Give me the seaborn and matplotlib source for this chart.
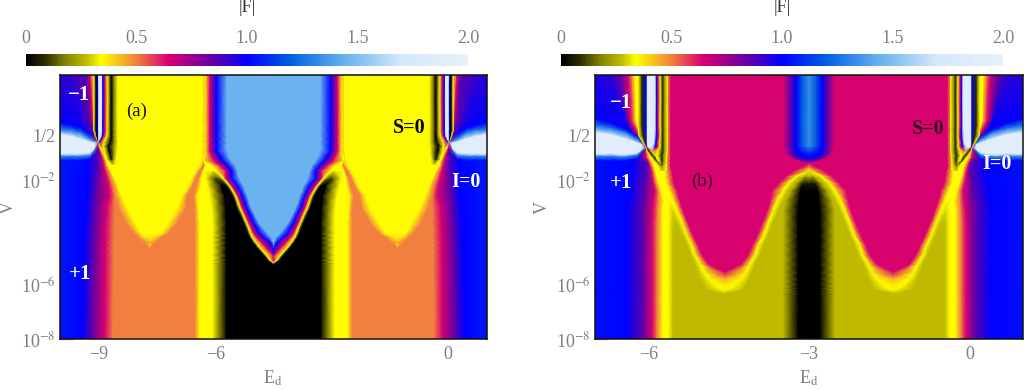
import numpy as np
import matplotlib
matplotlib.use("Agg")
import matplotlib.pyplot as plt
from matplotlib.colors import LinearSegmentedColormap
import seaborn as sns

# ---------- colour scale of |F| ----------
F_STOPS = [0, .08, .17, .27, .335, .5, .64, .85, 1.0, 1.2, 1.43, 1.7, 2.0]
F_COLORS = ["#000000", "#2a2a00", "#807f00", "#bfba00", "#ffff00", "#f08040", "#d80070",
            "#6000a8", "#0000ff", "#0060e0", "#62aeee", "#d4e8fa", "#e8f0fa"]
CBAR_TICKS = [0, .5, 1.0, 1.5, 2.0]
CBAR_LABELS = ["0", "0.5", "1.0", "1.5", "2.0"]

# ---------- panel (a): contours, Ed position of each |F| level per log10(V) ----------
A_CENTER, A_XLIM = -4.5, (-10, 1)
a_logv = [-8, -5.13, -5.02, -4.83, -4.53, -4.34, -4.15, -4.0, -3.62, -3.02, -2.57, -2.19, -1.92, -1.62, -1.43, -1.25,
          -0.87, -0.53, -0.3, 0.26, 2]
a_levels = [1.05, 1.0, .85, .64, .5, .5, .34, .34, .5, .5, .34, .34, 0, 0, .34, .64, 1.0, 1.45, 1.45]
a_ed = [
 [-9.41,-9.18,-8.84,-8.64,-7.69,-7.69,-7.69,-7.69,-6.53,-6.40,-6.07,-5.71,-4.5,-4.5,-4.5,-4.5,-4.5],
 [-9.38,-9.15,-8.83,-8.62,-7.69,-7.69,-7.69,-7.69,-6.53,-6.40,-6.07,-5.71,-4.5,-4.5,-4.5,-4.5,-4.5],
 [-9.38,-9.15,-8.83,-8.62,-7.69,-7.69,-7.69,-7.69,-6.53,-6.40,-6.07,-5.71,-4.65,-4.58,-4.5,-4.5,-4.5],
 [-9.38,-9.15,-8.83,-8.62,-7.69,-7.69,-7.69,-7.69,-6.53,-6.40,-6.07,-5.71,-4.75,-4.68,-4.5,-4.5,-4.5],
 [-9.37,-9.14,-8.83,-8.62,-7.69,-7.69,-7.69,-7.69,-6.53,-6.40,-6.07,-5.71,-4.93,-4.86,-4.68,-4.5,-4.5],
 [-9.37,-9.14,-8.83,-8.62,-7.87,-7.69,-7.69,-7.51,-6.53,-6.40,-6.07,-5.71,-5.03,-4.96,-4.8,-4.58,-4.5],
 [-9.36,-9.13,-8.82,-8.61,-8.0,-7.8,-7.58,-7.38,-6.53,-6.40,-6.07,-5.71,-5.11,-5.05,-4.92,-4.74,-4.55],
 [-9.36,-9.13,-8.82,-8.61,-8.1,-7.9,-7.4,-7.2,-6.53,-6.40,-6.07,-5.71,-5.16,-5.09,-5.0,-4.86,-4.65],
 [-9.34,-9.11,-8.81,-8.6,-8.3,-8.05,-7.22,-6.98,-6.53,-6.40,-6.07,-5.71,-5.26,-5.19,-5.12,-5.0,-4.86],
 [-9.32,-9.09,-8.79,-8.59,-8.5,-8.27,-6.97,-6.75,-6.53,-6.43,-6.09,-5.73,-5.45,-5.37,-5.3,-5.19,-5.07],
 [-9.3,-9.07,-8.71,-8.59,-8.58,-8.41,-6.86,-6.72,-6.56,-6.45,-6.14,-5.76,-5.55,-5.48,-5.41,-5.3,-5.17],
 [-9.28,-9.05,-8.74,-8.64,-8.62,-8.51,-6.68,-6.58,-6.48,-6.38,-6.2,-5.84,-5.71,-5.63,-5.57,-5.43,-5.27],
 [-9.28,-9.03,-8.79,-8.7,-8.69,-8.59,-6.61,-6.5,-6.44,-6.35,-6.25,-6.02,-5.89,-5.79,-5.72,-5.58,-5.37],
 [-9.28,-9.0,-8.84,-8.77,-8.75,-8.69,-6.5,-6.4,-6.35,-6.3,-6.25,-6.07,-6.07,-5.97,-5.73,-5.58,-5.43],
 [-9.27,-8.99,-8.87,-8.82,-8.81,-8.77,-6.4,-6.3,-6.27,-6.25,-6.22,-6.2,-6.14,-6.09,-5.86,-5.68,-5.48],
 [-9.28,-8.97,-8.9,-8.84,-8.83,-8.79,-6.35,-6.3,-6.3,-6.3,-6.3,-6.3,-6.3,-6.3,-6.02,-5.81,-5.58],
 [-9.25,-9.0,-8.97,-8.95,-8.92,-8.9,-6.32,-6.27,-6.27,-6.27,-6.27,-6.27,-6.27,-6.27,-6.14,-5.97,-5.7],
 [-9.28,-9.07,-9.05,-9.02,-9.01,-9.0,-6.32,-6.27,-6.27,-6.27,-6.27,-6.27,-6.27,-6.27,-6.14,-5.97,-5.7],
 [-9.23,-9.1,-9.07,-9.06,-9.05,-9.04,-6.32,-6.27,-6.27,-6.27,-6.27,-6.27,-6.27,-6.27,-6.14,-5.97,-5.7],
 [-9.49,-9.23,-9.15,-9.13,-9.11,-9.1,-6.32,-6.27,-6.27,-6.27,-6.27,-6.27,-6.27,-6.27,-6.14,-5.97,-5.7],
 [-9.74,-9.31,-9.22,-9.18,-9.15,-9.11,-6.32,-6.27,-6.27,-6.27,-6.27,-6.27,-6.27,-6.27,-6.14,-5.97,-5.7],
]
a_level_changes = {-4.34: {6: .44, 7: .44}, -4.15: {6: .37, 7: .37},
                   -1.92: {12: .12, 13: .12}, -1.62: {12: .34, 13: .34}, -1.43: {12: .34, 13: .34},
                   -1.25: {12: .34, 13: .34}, -0.87: {12: .34, 13: .34}, -0.53: {12: .34, 13: .34},
                   -0.3: {12: .34, 13: .34}, 0.26: {0: 1.0, 1: .98, 12: .34, 13: .34},
                   2: {0: .93, 1: .92, 12: .34, 13: .34}}

a_spike_logv = [-1.4, -1.2, -.95, -.7, -.53, -.45, -.3, -.1, 2]
a_spike_ed = [
 [-8.76,-8.75,-8.74,-8.73,-8.72,-8.71,-8.7,-8.68,-8.65,-8.6,-8.55],
 [-8.81,-8.81,-8.81,-8.81,-8.81,-8.81,-8.8,-8.79,-8.68,-8.62,-8.56],
 [-8.88,-8.88,-8.88,-8.88,-8.88,-8.88,-8.87,-8.84,-8.72,-8.62,-8.54],
 [-8.98,-8.97,-8.97,-8.96,-8.96,-8.96,-8.94,-8.88,-8.75,-8.63,-8.52],
 [-9.01,-9.0,-9.0,-8.99,-8.99,-8.98,-8.95,-8.87,-8.7,-8.61,-8.52],
 [-9.04,-9.02,-9.01,-9.0,-8.98,-8.95,-8.92,-8.84,-8.69,-8.61,-8.52],
 [-9.09,-9.05,-9.02,-9.0,-8.94,-8.9,-8.86,-8.79,-8.68,-8.61,-8.52],
 [-9.13,-9.07,-9.02,-9.0,-8.92,-8.9,-8.84,-8.78,-8.68,-8.61,-8.52],
 [-9.13,-9.07,-9.02,-9.0,-8.92,-8.9,-8.84,-8.78,-8.68,-8.61,-8.52],
]
a_spike_f = [
 [.34,.34,.34,.34,.34,.34,.34,.34,.34,.34,.34],
 [.34,.34,.34,.34,.34,.34,.34,.34,.05,.2,.34],
 [.34,.34,.34,.34,.34,.34,.34,.34,0,.17,.34],
 [.34,.34,.34,.34,.34,.34,.5,.34,0,.17,.34],
 [.34,0,1,1.5,1.5,1,.64,.34,0,.17,.34],
 [.34,0,1,1.9,1.9,1,.64,.34,0,.17,.34],
 [.34,0,1,1.9,1.9,1,.64,.34,0,.17,.34],
 [.34,0,1,1.9,1.9,1,.64,.34,0,.17,.34],
 [.34,0,1,1.9,1.9,1,.64,.34,0,.17,.34],
]

a_wedge_ed = [-10, -9.74, -9.49, -9.23, -9.1, -9.0]
a_wedge_logv = [
 [.19,-.08,-.26,-.98,-1.09,-1.25],
 [.11,-.11,-.32,-.98,-1.09,-1.25],
 [0,-.19,-.42,-.98,-1.09,-1.25],
 [-.23,-.42,-.55,-.94,-1.06,-1.17],
 [-.34,-.49,-.57,-.75,-.87,-.98],
 [-.55,-.55,-.55,-.55,-.55,-.55],
]
a_wedge_f = [
 [1.02,1.3,1.9,1.9,1.3,1.02],
 [1.0,1.3,1.9,1.9,1.3,1.0],
 [1.0,1.3,1.9,1.9,1.3,1.0],
 [.98,1.3,1.9,1.9,1.3,.98],
 [.8,1.2,1.9,1.9,1.2,.9],
 [.6,.6,.6,.6,.6,.6],
]

# ---------- panel (b) ----------
B_CENTER, B_XLIM = -3.0, (-7, 1)
b_logv = [-8, -6.26, -6.19, -6.08, -5.92, -5.7, -5.47, -5.17, -4.79, -4.45, -4.08, -3.7, -3.13, -2.75, -2.38, -2.11,
          -1.85, -1.62, -1.47, -1.32, -1.13, -.79, -.53, -.3, .26, 2]
b_levels = [1.03, 1, .85, .64, .5, .34, .34, .27, .27, .34, .64, .64, .34, .27, .27, 0, 0]
b_ed = [
 [-6.4,-6.1,-5.93,-5.84,-5.73,-5.63,-5.54,-4.57,-4.57,-4.57,-4.57,-4.57,-4.57,-3.48,-3.2],
 [-6.4,-6.1,-5.93,-5.84,-5.73,-5.63,-5.54,-4.57,-4.57,-4.57,-4.57,-4.57,-4.57,-3.48,-3.2],
 [-6.4,-6.1,-5.93,-5.84,-5.73,-5.63,-5.54,-4.81,-4.57,-4.57,-4.57,-4.57,-4.33,-3.48,-3.2],
 [-6.4,-6.1,-5.93,-5.84,-5.73,-5.63,-5.54,-4.94,-4.66,-4.57,-4.57,-4.48,-4.2,-3.48,-3.2],
 [-6.4,-6.1,-5.93,-5.84,-5.73,-5.63,-5.54,-4.98,-4.77,-4.57,-4.57,-4.37,-4.16,-3.48,-3.2],
 [-6.4,-6.1,-5.93,-5.84,-5.73,-5.63,-5.54,-5.03,-4.88,-4.57,-4.57,-4.26,-4.11,-3.48,-3.2],
 [-6.4,-6.1,-5.93,-5.84,-5.73,-5.63,-5.54,-5.07,-4.96,-4.57,-4.57,-4.18,-4.07,-3.48,-3.2],
 [-6.4,-6.1,-5.93,-5.84,-5.73,-5.63,-5.54,-5.13,-5.03,-4.87,-4.27,-4.11,-4.01,-3.48,-3.2],
 [-6.4,-6.1,-5.93,-5.84,-5.73,-5.63,-5.54,-5.22,-5.14,-5.0,-4.13,-4.0,-3.91,-3.48,-3.2],
 [-6.4,-6.1,-5.93,-5.84,-5.73,-5.63,-5.54,-5.28,-5.19,-5.07,-4.06,-3.95,-3.85,-3.48,-3.2],
 [-6.4,-6.1,-5.93,-5.84,-5.73,-5.63,-5.54,-5.36,-5.28,-5.16,-3.97,-3.85,-3.76,-3.48,-3.2],
 [-6.4,-6.1,-5.93,-5.84,-5.73,-5.63,-5.54,-5.44,-5.35,-5.24,-3.89,-3.78,-3.69,-3.48,-3.2],
 [-6.4,-6.1,-5.92,-5.83,-5.73,-5.63,-5.55,-5.55,-5.46,-5.35,-3.78,-3.67,-3.57,-3.48,-3.2],
 [-6.38,-6.08,-5.9,-5.82,-5.71,-5.63,-5.6,-5.6,-5.54,-5.41,-3.73,-3.59,-3.48,-3.44,-3.18],
 [-6.36,-6.06,-5.88,-5.82,-5.76,-5.69,-5.65,-5.65,-5.61,-5.46,-3.69,-3.48,-3.39,-3.35,-3.16],
 [-6.34,-6.04,-5.91,-5.86,-5.8,-5.73,-5.71,-5.71,-5.67,-5.52,-3.57,-3.39,-3.29,-3.25,-3.12],
 [-6.32,-6.02,-5.93,-5.89,-5.84,-5.76,-5.73,-5.73,-5.69,-5.54,-3.44,-3.24,-3.16,-3.12,-3.06],
 [-6.31,-6.0,-5.95,-5.91,-5.87,-5.78,-5.75,-5.75,-5.7,-5.56,-3.27,-3.0,-3.0,-3.0,-3.0],
 [-6.31,-6.0,-5.97,-5.93,-5.89,-5.8,-5.76,-5.76,-5.7,-5.58,-3.11,-3.0,-3.0,-3.0,-3.0],
 [-6.32,-6.02,-5.99,-5.96,-5.92,-5.82,-5.78,-5.78,-5.7,-5.58,-3.0,-3.0,-3.0,-3.0,-3.0],
 [-6.33,-6.12,-6.04,-6.01,-5.97,-5.88,-5.8,-5.8,-5.69,-5.58,-3.0,-3.0,-3.0,-3.0,-3.0],
 [-6.38,-6.16,-6.08,-6.04,-6.03,-6.01,-5.88,-5.88,-5.69,-5.58,-3.0,-3.0,-3.0,-3.0,-3.0],
 [-6.25,-6.16,-6.12,-6.08,-6.06,-6.04,-5.88,-5.88,-5.69,-5.58,-3.0,-3.0,-3.0,-3.0,-3.0],
 [-6.31,-6.23,-6.19,-6.16,-6.14,-6.12,-5.88,-5.88,-5.69,-5.58,-3.0,-3.0,-3.0,-3.0,-3.0],
 [-6.42,-6.4,-6.33,-6.27,-6.23,-6.18,-5.88,-5.88,-5.69,-5.58,-3.0,-3.0,-3.0,-3.0,-3.0],
 [-6.72,-6.53,-6.38,-6.31,-6.25,-6.19,-5.88,-5.88,-5.69,-5.58,-3.0,-3.0,-3.0,-3.0,-3.0],
]
_b_top = {7: .34, 8: .34, 12: .64, 13: .64, 14: .64, 15: .64, 16: .64}
b_level_changes = {-6.19: {9: .31, 10: .31, 11: .31, 12: .31}, -6.08: {10: .34, 11: .34}, -5.92: {10: .37, 11: .37},
                   -5.7: {10: .45, 11: .45}, -3.13: {7: .3, 8: .3},
                   -2.75: {7: .34, 8: .34}, -2.38: {7: .34, 8: .34},
                   -2.11: {7: .34, 8: .34, 15: .05, 16: .05}, -1.85: {7: .34, 8: .34, 15: .2, 16: .25},
                   -1.62: {7: .34, 8: .34, 12: .34, 13: .34, 14: .34, 15: .34, 16: .34},
                   -1.47: {7: .34, 8: .34, 12: .5, 13: .5, 14: .5, 15: .5, 16: .5},
                   -1.32: _b_top, -1.13: _b_top, -.79: _b_top, -.53: _b_top, -.3: _b_top,
                   .26: {**_b_top, 0: 1.0, 1: .98}, 2: {**_b_top, 0: .95, 1: .93}}

b_spike_logv = [-1.62, -1.43, -1.25, -1.06, -.87, -.72, -.57, -.3, .08, 2]
b_spike_ed = [
 [-5.78,-5.77,-5.76,-5.75,-5.74,-5.73,-5.72,-5.71,-5.7,-5.69,-5.67],
 [-5.82,-5.76,-5.76,-5.76,-5.76,-5.76,-5.76,-5.76,-5.75,-5.72,-5.67],
 [-5.9,-5.84,-5.82,-5.82,-5.82,-5.82,-5.82,-5.8,-5.75,-5.71,-5.67],
 [-5.97,-5.92,-5.86,-5.86,-5.86,-5.86,-5.86,-5.83,-5.76,-5.71,-5.66],
 [-6.03,-6.0,-5.95,-5.93,-5.91,-5.9,-5.88,-5.82,-5.74,-5.7,-5.65],
 [-6.04,-6.03,-6.03,-6.01,-5.93,-5.87,-5.83,-5.79,-5.74,-5.7,-5.65],
 [-6.1,-6.06,-6.04,-6.02,-5.9,-5.86,-5.83,-5.79,-5.74,-5.7,-5.65],
 [-6.18,-6.1,-6.04,-6.02,-5.89,-5.85,-5.81,-5.78,-5.74,-5.7,-5.65],
 [-6.19,-6.12,-6.04,-6.02,-5.88,-5.85,-5.82,-5.78,-5.74,-5.7,-5.65],
 [-6.19,-6.12,-6.04,-6.02,-5.88,-5.85,-5.82,-5.78,-5.74,-5.7,-5.65],
]
b_spike_f = [
 [.34,.34,.34,.34,.34,.34,.34,.34,.34,.34,.34],
 [.34,.15,.15,.15,.15,.15,.15,.15,.15,.24,.34],
 [.34,.08,.3,.3,.3,.3,.3,.34,.08,.2,.34],
 [.34,.08,.34,.34,.34,.34,.34,.34,.08,.2,.34],
 [.34,.08,.45,.5,.5,.5,.5,.34,.08,.2,.34],
 [.34,.08,1,1.9,1.9,1,.64,.34,.08,.2,.34],
 [.34,.08,1,1.9,1.9,1,.64,.34,.08,.2,.34],
 [.34,.08,1,1.9,1.9,1,.64,.34,.08,.2,.34],
 [.34,.08,1,1.9,1.9,1,.64,.34,.08,.2,.34],
 [.34,.08,1,1.9,1.9,1,.64,.34,.08,.2,.34],
]

b_wedge_ed = [-7, -6.72, -6.44, -6.21, -6.12, -6.03]
b_wedge_logv = [
 [.34,.04,-.19,-.98,-1.09,-1.25],
 [.19,-.04,-.26,-.98,-1.09,-1.25],
 [-.04,-.19,-.42,-1.02,-1.11,-1.25],
 [-.3,-.45,-.58,-.96,-1.04,-1.17],
 [-.45,-.57,-.64,-.81,-.89,-1.0],
 [-.79,-.79,-.79,-.79,-.79,-.79],
]
b_wedge_f = [
 [1.02,1.3,1.9,1.9,1.3,1.02],
 [1.0,1.3,1.9,1.9,1.3,1.0],
 [1.0,1.3,1.9,1.9,1.3,1.0],
 [.98,1.3,1.9,1.9,1.3,.98],
 [.85,1.2,1.9,1.9,1.2,.9],
 [.7,.7,.7,.7,.7,.7],
]

b_blob_logv = [-1.32, -1.25, -1.13, -.94, -.68, 2]
b_blob_ed = [
 [-3.0,-3.0,-3.0,-3.0,-3.0],
 [-3.18,-3.12,-3.04,-3.01,-3.0],
 [-3.35,-3.26,-3.11,-3.04,-3.0],
 [-3.44,-3.35,-3.22,-3.1,-3.0],
 [-3.48,-3.35,-3.24,-3.12,-3.0],
 [-3.48,-3.35,-3.24,-3.12,-3.0],
]
b_blob_f = [
 [.64,.64,.64,.64,.64],
 [.64,.8,.85,.85,.85],
 [.64,.85,1,1,1],
 [.64,.85,1,1.05,1.1],
 [.64,.85,1,1.2,1.33],
 [.64,.85,1,1.2,1.33],
]

# ---------- axis labels ----------
Y_TICKS = [1e-8, 1e-6, 1e-2, 0.5]
Y_LABELS = ["10$^{-8}$", "10$^{-6}$", "10$^{-2}$", "1/2"]
A_XTICKS, A_XLABELS = [-9, -6, 0], ["\u22129", "\u22126", "0"]
B_XTICKS, B_XLABELS = [-6, -3, 0], ["\u22126", "\u22123", "0"]
A_NOTES = [("(a)", -8.02, .64, "#111111", "normal", 13.5), ("\u22121", -9.51, 1.25, "white", "bold", 15),
           ("+1", -9.49, -5.55, "white", "bold", 15), ("S=0", -1.0, 0, "black", "bold", 14.5),
           ("I=0", .46, -2.04, "white", "bold", 14.5)]
B_NOTES = [("(b)", -5.0, -2.04, "#3a0020", "normal", 13.5), ("\u22121", -6.51, .94, "white", "bold", 15),
           ("+1", -6.51, -2.08, "white", "bold", 15), ("S=0", -.78, -.04, "#3a0020", "bold", 14.5),
           ("I=0", .51, -1.36, "white", "bold", 14.5)]

sns.set_theme(style="white")
plt.rcParams["font.family"] = ["Liberation Serif", "DejaVu Serif"]
plt.rcParams["mathtext.fontset"] = "stix"

GREY = "#7f7f7f"
W, H = 1024, 389
cmap = LinearSegmentedColormap.from_list("absF", [(s / 2.0, c) for s, c in zip(F_STOPS, F_COLORS)], N=512)
fig = plt.figure(figsize=(W / 100, H / 100), dpi=100, facecolor="white")


def px_axes(x0, x1, y0, y1):
    return fig.add_axes([x0 / W, 1 - y1 / H, (x1 - x0) / W, (y1 - y0) / H])


def mesh(ax, ed, logv, f, center):
    ed, logv, f = np.asarray(ed, float), np.asarray(logv, float), np.asarray(f, float)
    for xs in (ed, 2 * center - ed):
        ax.pcolormesh(xs, 10.0 ** logv, f, shading="gouraud", cmap=cmap, vmin=0, vmax=2)


def main_mesh(ax, ed_rows, logv, levels, changes, xlim, center):
    ed = np.column_stack([np.full(len(logv), xlim[0]), np.array(ed_rows), np.full(len(logv), center)])
    f = np.tile(np.array(levels, float), (len(logv), 1))
    for i, lv in enumerate(logv):
        for col, val in changes.get(lv, {}).items():
            f[i, col] = val
    mesh(ax, ed, np.tile(np.array(logv)[:, None], (1, ed.shape[1])), f, center)


def band_mesh(ax, ed_rows, logv, f, center):
    ed = np.array(ed_rows)
    mesh(ax, ed, np.tile(np.array(logv)[:, None], (1, ed.shape[1])), f, center)


def wedge_mesh(ax, ed, logv_cols, f, center):
    lv = np.array(logv_cols)
    mesh(ax, np.tile(np.array(ed)[:, None], (1, lv.shape[1])), lv, f, center)


def finish(ax, xlim, xticks, xlabels, notes):
    ax.set_yscale("log")
    ax.set_xlim(*xlim)
    ax.set_ylim(1e-8, 1e2)
    ax.set_yticks(Y_TICKS)
    ax.set_yticklabels(Y_LABELS)
    ax.minorticks_off()
    ax.set_xticks(xticks)
    ax.set_xticklabels(xlabels)
    ax.tick_params(axis="both", which="major", direction="in", length=9.4, width=.9, color="#9a9a9a",
                   labelcolor=GREY, labelsize=13, pad=3, left=True, bottom=True)
    ax.tick_params(axis="x", pad=5)
    for s in ax.spines.values():
        s.set_color("#111111")
        s.set_linewidth(1.1)
    for txt, x, lv, col, wt, fs in notes:
        ax.text(x, 10.0 ** lv, txt, color=col, fontweight=wt, fontsize=fs, ha="center", va="center")


def colorbar(x0, x1, title_x):
    cax = px_axes(x0, x1, 53.5, 65.5)
    grad = np.linspace(0, 2, 442)[None, :]
    sns.heatmap(grad, ax=cax, cmap=cmap, vmin=0, vmax=2, cbar=False, xticklabels=False, yticklabels=False)
    cax.set_xticks([t / 2 * grad.shape[1] for t in CBAR_TICKS])
    cax.set_xticklabels(CBAR_LABELS, rotation=0)
    cax.xaxis.tick_top()
    cax.tick_params(axis="x", length=0, pad=5, labelsize=13, labelcolor=GREY)
    cax.set_yticks([])
    fig.text(title_x / W, 1 - 8 / H, "|F|", ha="center", va="center", fontsize=13, color="#333333")


ax_a = px_axes(60, 487, 75, 339)
ax_a.set_yscale("log")
main_mesh(ax_a, a_ed, a_logv, a_levels, a_level_changes, A_XLIM, A_CENTER)
wedge_mesh(ax_a, a_wedge_ed, a_wedge_logv, a_wedge_f, A_CENTER)
band_mesh(ax_a, a_spike_ed, a_spike_logv, a_spike_f, A_CENTER)
finish(ax_a, A_XLIM, A_XTICKS, A_XLABELS, A_NOTES)

ax_b = px_axes(595, 1023, 75, 339)
ax_b.set_yscale("log")
main_mesh(ax_b, b_ed, b_logv, b_levels, b_level_changes, B_XLIM, B_CENTER)
band_mesh(ax_b, b_blob_ed, b_blob_logv, b_blob_f, B_CENTER)
wedge_mesh(ax_b, b_wedge_ed, b_wedge_logv, b_wedge_f, B_CENTER)
band_mesh(ax_b, b_spike_ed, b_spike_logv, b_spike_f, B_CENTER)
finish(ax_b, B_XLIM, B_XTICKS, B_XLABELS, B_NOTES)

colorbar(26, 468, 247)
colorbar(561, 1003, 782)

for px, py, txt, rot in [(8, 207, "V", 90), (542, 207, "V", 90), (273, 378, "E$_{\\mathrm{d}}$", 0),
                         (809, 378, "E$_{\\mathrm{d}}$", 0)]:
    fig.text(px / W, 1 - py / H, txt, rotation=rot, ha="center", va="center", fontsize=13, color=GREY)

fig.savefig("out.png", dpi=100, facecolor="white")
